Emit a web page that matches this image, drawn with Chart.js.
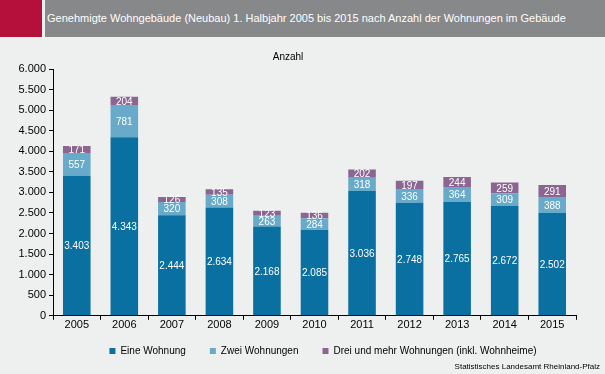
<!DOCTYPE html>
<html>
<head>
<meta charset="utf-8">
<script src="https://cdn.jsdelivr.net/npm/chart.js@4/dist/chart.umd.min.js"></script>
<style>
  html, body { margin:0; padding:0; background:#eef0ef; }
  #wrap { position:relative; width:605px; height:374px; overflow:hidden; background:#eef0ef; }
  #red { position:absolute; left:0; top:0; width:42px; height:37px; background:#b5103c; }
  #hdr { position:absolute; left:45px; top:0; width:560px; height:37px; background:#878889;
         color:#fff; font:11px "Liberation Sans", Arial, sans-serif; line-height:37px; padding-left:2px; box-sizing:border-box; }
  #src { position:absolute; right:5px; top:362px; font:8px "Liberation Sans", Arial, sans-serif; color:#000; }
  canvas { position:absolute; left:0; top:0; }
</style>
</head>
<body>
<div id="wrap">
  <canvas id="c" width="605" height="374"></canvas>
  <div id="red"></div>
  <div id="hdr">Genehmigte Wohngebäude (Neubau) 1. Halbjahr 2005 bis 2015 nach Anzahl der Wohnungen im Gebäude</div>
  <div id="src">Statistisches Landesamt Rheinland-Pfalz</div>
</div>
<script>
const categories = ["2005","2006","2007","2008","2009","2010","2011","2012","2013","2014","2015"];
const eineWohnung = [3403, 4343, 2444, 2634, 2168, 2085, 3036, 2748, 2765, 2672, 2502];
const zweiWohnungen = [557, 781, 320, 308, 263, 284, 318, 336, 364, 309, 388];
const dreiUndMehr = [171, 204, 126, 135, 123, 136, 202, 197, 244, 259, 291];
const seriesNames = ["Eine Wohnung", "Zwei Wohnungen", "Drei und mehr Wohnungen (inkl. Wohnheime)"];

const fmt = v => String(v).replace(/\B(?=(\d{3})+(?!\d))/g, ".");
const FONT = '"Liberation Sans", Arial, sans-serif';

const labelPlugin = {
  id: 'segLabels',
  afterDatasetsDraw(chart) {
    const ctx = chart.ctx;
    ctx.save();
    ctx.font = '10px ' + FONT;
    ctx.fillStyle = '#ffffff';
    ctx.textAlign = 'center';
    ctx.textBaseline = 'middle';
    chart.data.datasets.forEach((ds, di) => {
      const meta = chart.getDatasetMeta(di);
      meta.data.forEach((bar, i) => {
        const y = (bar.y + bar.base) / 2;
        ctx.fillText(fmt(ds.data[i]), bar.x, y + 1);
      });
    });
    ctx.restore();
  }
};

const legendShift = {
  id: 'legendShift',
  afterLayout(chart) {
    const lg = chart.legend;
    if (!lg) return;
    const dy = 9, dx = 35;
    lg.top -= dy; lg.bottom -= dy;
    lg.left += dx; lg.right += dx;
  }
};

new Chart(document.getElementById('c'), {
  type: 'bar',
  data: {
    labels: categories,
    datasets: [
      { label: seriesNames[0], data: eineWohnung, backgroundColor: '#0a70a2' },
      { label: seriesNames[1], data: zweiWohnungen, backgroundColor: '#67aac9' },
      { label: seriesNames[2], data: dreiUndMehr, backgroundColor: '#8c6593' }
    ]
  },
  options: {
    responsive: false,
    animation: false,
    devicePixelRatio: 1,
    layout: { padding: { left: 0, right: 29, top: 40, bottom: -1 } },
    datasets: { bar: { categoryPercentage: 1, barPercentage: 0.58 } },
    plugins: {
      title: { display: true, text: 'Anzahl', color: '#000', font: { family: FONT, size: 10, weight: 'normal' }, padding: { top: 11, bottom: 6 } },
      legend: {
        position: 'bottom',
        labels: { color: '#000', font: { family: FONT, size: 10 }, boxWidth: 6, boxHeight: 6, padding: 24 }
      },
      tooltip: { enabled: false }
    },
    scales: {
      x: {
        stacked: true,
        grid: { display: true, drawOnChartArea: false, drawTicks: true, tickLength: 4, color: '#000', offset: true },
        border: { color: '#000', width: 1 },
        ticks: { color: '#000', font: { family: FONT, size: 11 }, padding: -1 }
      },
      y: {
        stacked: true,
        min: 0, max: 6000,
        afterFit: s => { s.width = 53; },
        grid: { display: true, drawOnChartArea: false, drawTicks: true, tickLength: 4, color: '#000' },
        border: { color: '#000', width: 1 },
        ticks: { stepSize: 500, color: '#000', font: { family: FONT, size: 11 }, padding: 3, callback: v => fmt(v) }
      }
    }
  },
  plugins: [labelPlugin, legendShift]
});
</script>
</body>
</html>
